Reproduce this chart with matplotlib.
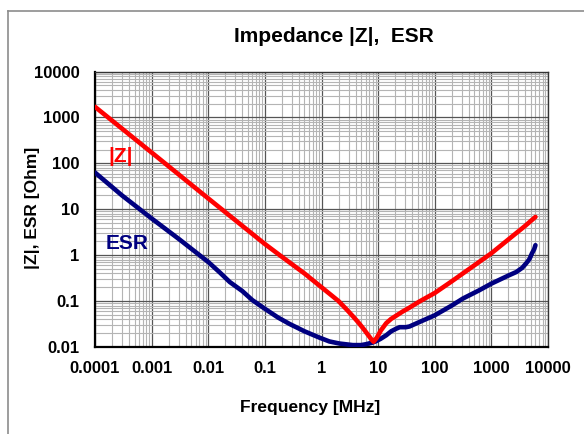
import numpy as np
import matplotlib
matplotlib.use("Agg")
import matplotlib.pyplot as plt
from matplotlib.lines import Line2D
from matplotlib.ticker import LogLocator, FixedLocator, FixedFormatter, NullFormatter

plt.rcParams['font.family'] = ['Liberation Sans', 'DejaVu Sans']
plt.rcParams['font.weight'] = 'bold'

# === Data (frequency in MHz, values in Ohm) ===
z_freq = [1e-4, 1e-3, 1e-2, 0.1, 0.2, 0.5, 1.0, 1.38, 2.0, 2.8, 3.57, 4.5, 5.5,
          6.5, 7.5, 8.3, 9.5, 11.2, 13.9, 17, 20.8, 27, 35.8, 53.7, 100, 200,
          500, 1000, 2000, 4000, 6000]
z_mag = [1700, 172, 17.2, 1.75, 0.92, 0.4, 0.2, 0.145, 0.1, 0.065, 0.047, 0.034,
         0.025, 0.019, 0.015, 0.013, 0.016, 0.023, 0.033, 0.041, 0.048, 0.059,
         0.072, 0.098, 0.15, 0.27, 0.6, 1.1, 2.2, 4.4, 6.8]

esr_freq = [1e-4, 3e-4, 1e-3, 3.1e-3, 1e-2, 1.6e-2, 2.4e-2, 4e-2, 6e-2, 0.1, 0.17,
            0.27, 0.5, 0.92, 1.38, 2.08, 3.57, 5.0, 6.1, 8.0, 9.2, 11, 13.9, 17,
            20.8, 24, 27.3, 31, 35.8, 53.7, 100, 200, 316, 600, 1000, 2000, 2760,
            3500, 4100, 4700, 5200, 5700, 6000]
esr_val = [63, 20, 6.3, 2.2, 0.71, 0.42, 0.26, 0.165, 0.105, 0.068, 0.044,
           0.032, 0.022, 0.016, 0.0132, 0.0119, 0.011, 0.011, 0.0115, 0.0125, 0.0134,
           0.015, 0.018, 0.022, 0.025, 0.027, 0.027, 0.027, 0.028, 0.035, 0.049,
           0.08, 0.114, 0.17, 0.24, 0.36, 0.43, 0.53, 0.66, 0.82, 1.09, 1.35, 1.65]

x_ticks = [1e-4, 1e-3, 1e-2, 1e-1, 1, 10, 100, 1000, 10000]
x_labels = ['0.0001', '0.001', '0.01', '0.1', '1', '10', '100', '1000', '10000']
y_ticks = [0.01, 0.1, 1, 10, 100, 1000, 10000]
y_labels = ['0.01', '0.1', '1', '10', '100', '1000', '10000']

# === Figure ===
fig = plt.figure(figsize=(5.84, 4.34), dpi=100)
ax = fig.add_axes([95 / 584, 1 - 347 / 434, 453 / 584, 275.5 / 434])

ax.plot(esr_freq, esr_val, color='#000080', lw=3.3, solid_capstyle='round',
        solid_joinstyle='round', zorder=3)
ax.plot(z_freq, z_mag, color='#FF0000', lw=3.3, solid_capstyle='round',
        solid_joinstyle='round', zorder=4)

ax.set_xscale('log')
ax.set_yscale('log')
ax.set_xlim(1e-4, 1e4)
ax.set_ylim(0.01, 1e4)

ax.xaxis.set_major_locator(FixedLocator(x_ticks))
ax.xaxis.set_major_formatter(FixedFormatter(x_labels))
ax.yaxis.set_major_locator(FixedLocator(y_ticks))
ax.yaxis.set_major_formatter(FixedFormatter(y_labels))
ax.xaxis.set_minor_locator(LogLocator(base=10, subs=np.arange(2, 10), numticks=20))
ax.yaxis.set_minor_locator(LogLocator(base=10, subs=np.arange(2, 10), numticks=20))
ax.xaxis.set_minor_formatter(NullFormatter())
ax.yaxis.set_minor_formatter(NullFormatter())

ax.grid(True, which='major', color='#555555', lw=0.9, zorder=1)
ax.grid(True, which='minor', color='#b4b4b4', lw=0.8, zorder=0)
ax.set_axisbelow(True)

ax.tick_params(which='both', length=0)
ax.tick_params(axis='x', pad=10, labelsize=12)
ax.tick_params(axis='y', pad=11, labelsize=12)

for side in ['left', 'bottom']:
    ax.spines[side].set_linewidth(1.6)
    ax.spines[side].set_color('black')
for side in ['top', 'right']:
    ax.spines[side].set_linewidth(1.0)
    ax.spines[side].set_color('#333333')

ax.set_xlabel('Frequency [MHz]', fontsize=12.5, fontweight='bold')
ax.xaxis.set_label_coords(0.475, -0.221)
ax.xaxis.label.set_va('center')
ax.set_ylabel('|Z|, ESR [Ohm]', fontsize=12.5, fontweight='bold')
ax.yaxis.set_label_coords(-0.137, 0.506)
ax.yaxis.label.set_va('center')

# curve labels
ax.text(1.7e-4, 143, '|Z|', color='#FF0000', fontsize=15, fontweight='bold',
        ha='left', va='center')
ax.text(1.56e-4, 1.82, 'ESR', color='#000080', fontsize=15, fontweight='bold',
        ha='left', va='center')

fig.text(334 / 584, 1 - 37 / 434, 'Impedance |Z|,  ESR', fontsize=15,
         fontweight='bold', ha='center', va='center')

# chart area border (only top and left edges visible)
fig.add_artist(Line2D([8 / 584, 1.0], [1 - 11 / 434, 1 - 11 / 434],
                      transform=fig.transFigure, color='#8c8c8c', lw=1.2))
fig.add_artist(Line2D([8 / 584, 8 / 584], [0.0, 1 - 11 / 434],
                      transform=fig.transFigure, color='#8c8c8c', lw=1.2))

fig.savefig('out.png', dpi=100)
